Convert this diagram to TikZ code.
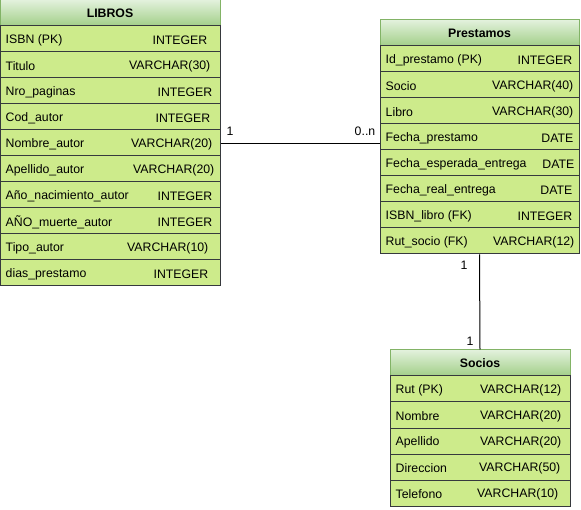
\documentclass[tikz,border=0pt]{standalone}
\usepackage{fontspec}
\setmainfont{Liberation Sans}
\usepackage{xcolor}
\usetikzlibrary{positioning}
\definecolor{rowgreen}{HTML}{CDEB8B}
\definecolor{rowline}{HTML}{36393D}
\definecolor{headtop}{HTML}{E2F1DC}
\definecolor{headbot}{HTML}{A2CF88}
\definecolor{headline}{HTML}{82B366}
\newcommand{\fsize}{\fontsize{12.3}{14}\selectfont}

\begin{document}
\begin{tikzpicture}[x=1pt,y=-1pt,
    header/.style={draw=headline, line width=1pt, top color=headtop, bottom color=headbot,
        minimum height=26pt, inner sep=0pt, font=\fsize\bfseries},
    row/.style={draw=rowline, line width=1pt, fill=rowgreen, minimum height=26pt,
        inner sep=0pt},
    fname/.style={anchor=west, inner sep=0pt, yshift=-1pt, font=\fsize},
    ftype/.style={anchor=east, inner sep=0pt, yshift=-1pt, font=\fsize},
    card/.style={inner sep=0pt, font=\fsize}]
\useasboundingbox (0,0) rectangle (581,510);
\begin{scope}
    % LIBROS
    \node[header, minimum width=220pt] (libros) at (110,13) {LIBROS};
    \node[row, minimum width=220pt] (lib1) at (110,39) {};
    \node[row, minimum width=220pt] (lib2) at (110,65) {};
    \node[row, minimum width=220pt] (lib3) at (110,91) {};
    \node[row, minimum width=220pt] (lib4) at (110,117) {};
    \node[row, minimum width=220pt] (lib5) at (110,143) {};
    \node[row, minimum width=220pt] (lib6) at (110,169) {};
    \node[row, minimum width=220pt] (lib7) at (110,195) {};
    \node[row, minimum width=220pt] (lib8) at (110,221) {};
    \node[row, minimum width=220pt] (lib9) at (110,247) {};
    \node[row, minimum width=220pt] (lib10) at (110,273) {};
    \node[fname] (lib1n) at ([xshift=6pt]lib1.west) {ISBN (PK)};
    \node[fname] (lib2n) at ([xshift=6pt]lib2.west) {Titulo};
    \node[fname] (lib3n) at ([xshift=6pt]lib3.west) {Nro\_paginas};
    \node[fname] (lib4n) at ([xshift=6pt]lib4.west) {Cod\_autor};
    \node[fname] (lib5n) at ([xshift=6pt]lib5.west) {Nombre\_autor};
    \node[fname] (lib6n) at ([xshift=6pt]lib6.west) {Apellido\_autor};
    \node[fname] (lib7n) at ([xshift=6pt]lib7.west) {Año\_nacimiento\_autor};
    \node[fname] (lib8n) at ([xshift=6pt]lib8.west) {AÑO\_muerte\_autor};
    \node[fname] (lib9n) at ([xshift=6pt]lib9.west) {Tipo\_autor};
    \node[fname] (lib10n) at ([xshift=6pt]lib10.west) {dias\_prestamo};
    \node[ftype] (lib1t) at ([xshift=-13pt]lib1.east) {INTEGER};
    \node[ftype] (lib2t) at ([xshift=-10pt]lib2.east) {VARCHAR(30)};
    \node[ftype] (lib3t) at ([xshift=-8pt]lib3.east) {INTEGER};
    \node[ftype] (lib4t) at ([xshift=-10pt]lib4.east) {INTEGER};
    \node[ftype] (lib5t) at ([xshift=-8pt]lib5.east) {VARCHAR(20)};
    \node[ftype] (lib6t) at ([xshift=-6pt]lib6.east) {VARCHAR(20)};
    \node[ftype] (lib7t) at ([xshift=-8pt]lib7.east) {INTEGER};
    \node[ftype] (lib8t) at ([xshift=-8pt]lib8.east) {INTEGER};
    \node[ftype] (lib9t) at ([xshift=-12pt]lib9.east) {VARCHAR(10)};
    \node[ftype] (lib10t) at ([xshift=-12pt]lib10.east) {INTEGER};

    % Prestamos
    \node[header, minimum width=199pt] (prest) at (479.5,33) {Prestamos};
    \node[row, minimum width=199pt] (pre1) at (479.5,59) {};
    \node[row, minimum width=199pt] (pre2) at (479.5,85) {};
    \node[row, minimum width=199pt] (pre3) at (479.5,111) {};
    \node[row, minimum width=199pt] (pre4) at (479.5,137) {};
    \node[row, minimum width=199pt] (pre5) at (479.5,163) {};
    \node[row, minimum width=199pt] (pre6) at (479.5,189) {};
    \node[row, minimum width=199pt] (pre7) at (479.5,215) {};
    \node[row, minimum width=199pt] (pre8) at (479.5,241) {};
    \node[fname] (pre1n) at ([xshift=6pt]pre1.west) {Id\_prestamo (PK)};
    \node[fname] (pre2n) at ([xshift=6pt]pre2.west) {Socio};
    \node[fname] (pre3n) at ([xshift=6pt]pre3.west) {Libro};
    \node[fname] (pre4n) at ([xshift=6pt]pre4.west) {Fecha\_prestamo};
    \node[fname] (pre5n) at ([xshift=6pt]pre5.west) {Fecha\_esperada\_entrega};
    \node[fname] (pre6n) at ([xshift=6pt]pre6.west) {Fecha\_real\_entrega};
    \node[fname] (pre7n) at ([xshift=6pt]pre7.west) {ISBN\_libro (FK)};
    \node[fname] (pre8n) at ([xshift=6pt]pre8.west) {Rut\_socio (FK)};
    \node[ftype] (pre1t) at ([xshift=-7pt]pre1.east) {INTEGER};
    \node[ftype] (pre2t) at ([xshift=-6pt]pre2.east) {VARCHAR(40)};
    \node[ftype] (pre3t) at ([xshift=-6pt]pre3.east) {VARCHAR(30)};
    \node[ftype] (pre4t) at ([xshift=-6pt]pre4.east) {DATE};
    \node[ftype] (pre5t) at ([xshift=-5pt]pre5.east) {DATE};
    \node[ftype] (pre6t) at ([xshift=-7pt]pre6.east) {DATE};
    \node[ftype] (pre7t) at ([xshift=-7pt]pre7.east) {INTEGER};
    \node[ftype] (pre8t) at ([xshift=-5pt]pre8.east) {VARCHAR(12)};

    % Socios
    \node[header, minimum width=180pt] (socios) at (480,363) {Socios};
    \node[row, minimum width=180pt] (soc1) at (480,389) {};
    \node[row, minimum width=180pt] (soc2) at (480,415) {};
    \node[row, minimum width=180pt] (soc3) at (480,441) {};
    \node[row, minimum width=180pt] (soc4) at (480,467) {};
    \node[row, minimum width=180pt] (soc5) at (480,493) {};
    \node[fname] (soc1n) at ([xshift=6pt]soc1.west) {Rut (PK)};
    \node[fname] (soc2n) at ([xshift=6pt]soc2.west) {Nombre};
    \node[fname] (soc3n) at ([xshift=6pt]soc3.west) {Apellido};
    \node[fname] (soc4n) at ([xshift=6pt]soc4.west) {Direccion};
    \node[fname] (soc5n) at ([xshift=6pt]soc5.west) {Telefono};
    \node[ftype] (soc1t) at ([xshift=-9pt]soc1.east) {VARCHAR(12)};
    \node[ftype] (soc2t) at ([xshift=-9pt]soc2.east) {VARCHAR(20)};
    \node[ftype] (soc3t) at ([xshift=-9pt]soc3.east) {VARCHAR(20)};
    \node[ftype] (soc4t) at ([xshift=-10pt]soc4.east) {VARCHAR(50)};
    \node[ftype] (soc5t) at ([xshift=-12pt]soc5.east) {VARCHAR(10)};

    % Relations
    \draw[line width=1pt] ([yshift=-1pt]lib5.east) -- ([yshift=-1pt]lib5.east -| pre4.west);
    \draw[line width=1pt] (pre8.south) -- (socios.north);

    % Cardinalities
    \node[card] (c1) at (230,131) {1};
    \node[card] (c2) at (365,131) {0..n};
    \node[card] (c3) at (464,265) {1};
    \node[card] (c4) at (470,341) {1};
\end{scope}
\end{tikzpicture}
\end{document}
